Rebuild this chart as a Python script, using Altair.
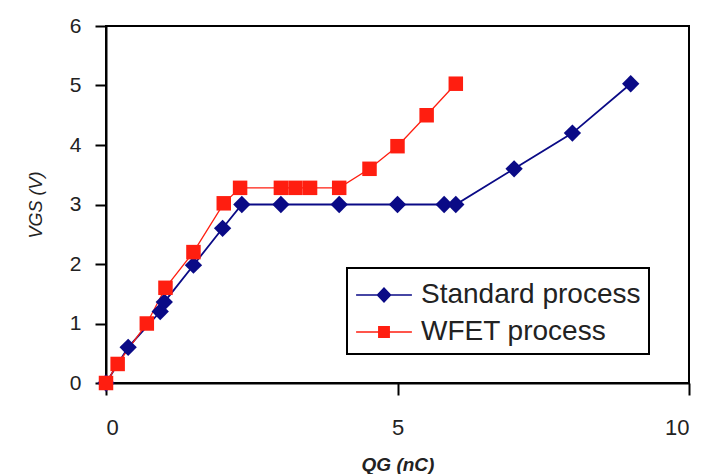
import altair as alt
import pandas as pd

series_names = ["Standard process", "WFET process"]
series_colors = ["#0A0A86", "#FF1E10"]

std_q = [0, 0.38, 0.93, 1.0, 1.5, 2.0, 2.33, 3.0, 4.0, 5.0, 5.8, 6.0, 7.0, 8.0, 9.0]
std_v = [0, 0.6, 1.2, 1.36, 1.98, 2.6, 3.0, 3.0, 3.0, 3.0, 3.0, 3.0, 3.6, 4.2, 5.03]
wfet_q = [0, 0.2, 0.7, 1.02, 1.5, 2.02, 2.3, 3.0, 3.25, 3.5, 4.0, 4.52, 5.0, 5.5, 6.0]
wfet_v = [0, 0.32, 1.0, 1.6, 2.2, 3.02, 3.28, 3.28, 3.28, 3.28, 3.28, 3.6, 3.98, 4.5, 5.03]

x_ticks = [0, 5, 10]
y_ticks = [0, 1, 2, 3, 4, 5, 6]

rows = []
for i, (q, v) in enumerate(zip(std_q, std_v)):
    rows.append({"q": q, "v": v, "series": series_names[0], "i": i})
for i, (q, v) in enumerate(zip(wfet_q, wfet_v)):
    rows.append({"q": q, "v": v, "series": series_names[1], "i": i})
df = pd.DataFrame(rows)

FONT = "Liberation Sans"

x_enc = alt.X("q:Q", scale=alt.Scale(domain=[0, 10], nice=False),
              axis=alt.Axis(values=x_ticks, title="QG (nC)", grid=False,
                            labelFontSize=22, labelPadding=22, tickSize=12,
                            titleFontSize=19, titleFontStyle="italic", titleFontWeight="bold",
                            titlePadding=17))
y_enc = alt.Y("v:Q", scale=alt.Scale(domain=[0, 6], nice=False),
              axis=alt.Axis(values=y_ticks, title="VGS (V)", grid=False,
                            labelFontSize=21, labelPadding=14, tickSize=11,
                            titleFontSize=18, titleFontStyle="italic", titleFontWeight="normal",
                            titlePadding=24))

color_nolegend = alt.Color("series:N", scale=alt.Scale(domain=series_names, range=series_colors), legend=None)

base = alt.Chart(df)

lines = base.mark_line().encode(
    x=x_enc, y=y_enc, color=color_nolegend, order="i:Q",
    strokeWidth=alt.StrokeWidth("series:N", scale=alt.Scale(domain=series_names, range=[1.8, 1.3]), legend=None),
)

points = base.mark_point(filled=True, opacity=1).encode(
    x=x_enc, y=y_enc, color=color_nolegend,
    shape=alt.Shape("series:N", scale=alt.Scale(domain=series_names, range=["diamond", "square"]), legend=None),
    size=alt.Size("series:N", scale=alt.Scale(domain=series_names, range=[300, 210]), legend=None),
)

legend_shapes = [
    "M-1.55,-0.045H1.55V0.045H-1.55Z M0,-0.45L0.42,0L0,0.45L-0.42,0Z",
    "M-1.55,-0.04H1.55V0.04H-1.55Z M-0.33,-0.33H0.33V0.33H-0.33Z",
]

def make_legend():
    return alt.Legend(title=None, orient="none", legendX=241, legendY=242,
                      labelFont=FONT, labelFontSize=28, labelColor="#222222", labelLimit=0,
                      symbolSize=1296, labelOffset=18, symbolOffset=10,
                      padding=8, rowPadding=4, strokeColor="black", fillColor="white")

legend_layer = base.mark_point(filled=True, opacity=1).encode(
    x=x_enc, y=y_enc,
    color=alt.Color("series:N", scale=alt.Scale(domain=series_names, range=series_colors),
                    legend=make_legend()),
    shape=alt.Shape("series:N", scale=alt.Scale(domain=series_names, range=legend_shapes),
                    legend=make_legend()),
).transform_filter("false")

chart = alt.layer(lines, points, legend_layer).resolve_scale(
    color="independent", shape="independent", size="independent", strokeWidth="independent"
).properties(
    width=583, height=357,
    padding={"left": 106, "top": 26, "right": 23, "bottom": 91},
    autosize="none",
    background="white",
).configure_view(
    stroke="black", strokeWidth=2
).configure_axis(
    labelFont=FONT, titleFont=FONT, labelColor="#222222", titleColor="#222222",
    domainColor="black", domainWidth=2, tickColor="black", tickWidth=2,
).configure_legend(
    strokeWidth=2
)

chart.save("out.html", embed_options={"renderer": "svg", "actions": False})
